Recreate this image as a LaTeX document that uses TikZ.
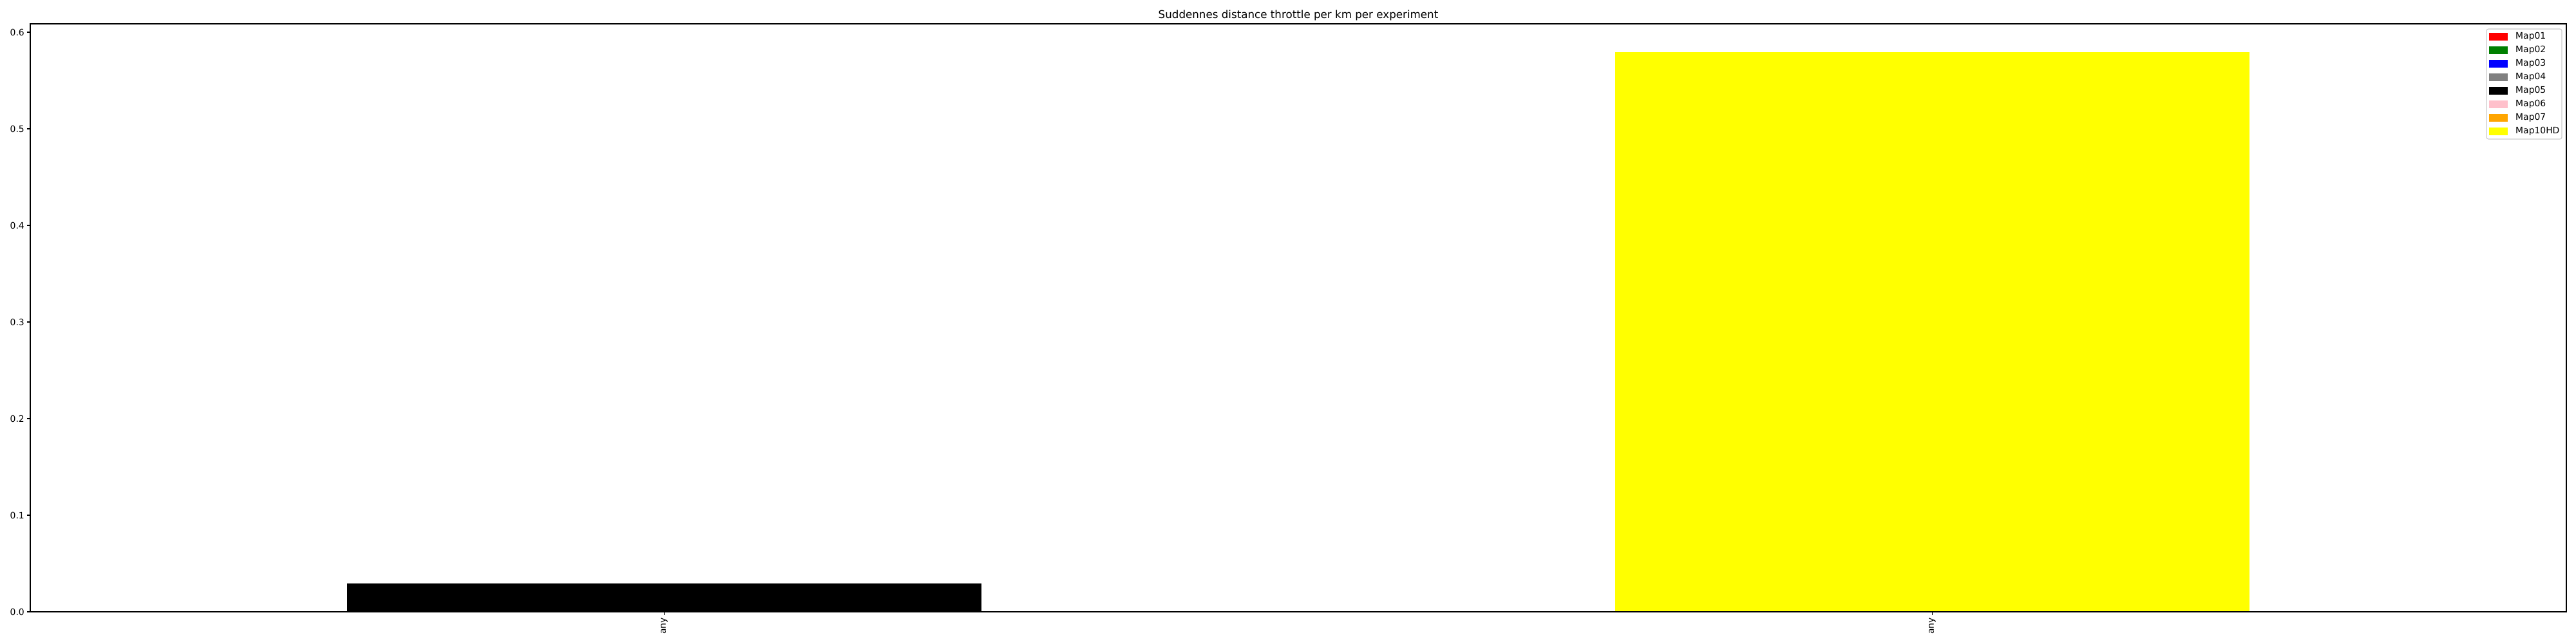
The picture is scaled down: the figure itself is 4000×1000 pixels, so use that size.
\documentclass[tikz,border=0pt]{standalone}
\usepackage{fontspec}
\setmainfont{DejaVu Sans}
\definecolor{mplred}{HTML}{FF0000}
\definecolor{mplgreen}{HTML}{008000}
\definecolor{mplblue}{HTML}{0000FF}
\definecolor{mplgray}{HTML}{808080}
\definecolor{mplpink}{HTML}{FFC0CB}
\definecolor{mplorange}{HTML}{FFA500}
\definecolor{mplyellow}{HTML}{FFFF00}
\begin{document}
\begin{tikzpicture}[x=1pt, y=1pt,
    ticklab/.style={font=\fontsize{13.9}{16}\selectfont, inner sep=0pt},
    leglab/.style={font=\fontsize{13.9}{16}\selectfont, inner sep=0pt, anchor=west},
    patch/.style={minimum width=29pt, minimum height=11.7pt, inner sep=0pt, anchor=west}]
    \useasboundingbox (0,0) rectangle (4000,1000);
    % bars
    \fill[black] (539,50) rectangle (1524,94);
    \fill[mplyellow] (2508,50) rectangle (3493,919);
    % frame
    \draw[line width=1.1pt] (47,50) rectangle (3985,963);
    % y ticks
    \draw[line width=1.1pt] (42,50) -- (47,50) (42,200) -- (47,200) (42,350) -- (47,350) (42,500) -- (47,500);
    \draw[line width=1.1pt] (42,650) -- (47,650) (42,800) -- (47,800) (42,950) -- (47,950);
    \node[ticklab, anchor=east] (y0) at (38,50) {0.0};
    \node[ticklab, anchor=east] (y1) at (38,200) {0.1};
    \node[ticklab, anchor=east] (y2) at (38,350) {0.2};
    \node[ticklab, anchor=east] (y3) at (38,500) {0.3};
    \node[ticklab, anchor=east] (y4) at (38,650) {0.4};
    \node[ticklab, anchor=east] (y5) at (38,800) {0.5};
    \node[ticklab, anchor=east] (y6) at (38,950) {0.6};
    % x ticks
    \draw[line width=1.1pt] (1031.5,50) -- (1031.5,45) (3000.5,50) -- (3000.5,45);
    \node[ticklab, rotate=90, anchor=east] (xa) at (1031.5,41) {any};
    \node[ticklab, rotate=90, anchor=east] (xb) at (3000.5,41) {any};
    % title
    \node[font=\fontsize{16.7}{20}\selectfont, inner sep=0pt, anchor=base] (title) at (2016,971) {Suddennes distance throttle per km per experiment};
    % legend
    \draw[draw=black!20, fill=white, rounded corners=3pt, line width=1.1pt] (3861,784) rectangle (3978,955);
    \node[patch, fill=mplred] (p1) at (3865,943.3) {};
    \node[leglab] (l1) at (3906,943.3) {Map01};
    \node[patch, fill=mplgreen] (p2) at (3865,922.3) {};
    \node[leglab] (l2) at (3906,922.3) {Map02};
    \node[patch, fill=mplblue] (p3) at (3865,901.3) {};
    \node[leglab] (l3) at (3906,901.3) {Map03};
    \node[patch, fill=mplgray] (p4) at (3865,880.3) {};
    \node[leglab] (l4) at (3906,880.3) {Map04};
    \node[patch, fill=black] (p5) at (3865,859.3) {};
    \node[leglab] (l5) at (3906,859.3) {Map05};
    \node[patch, fill=mplpink] (p6) at (3865,838.3) {};
    \node[leglab] (l6) at (3906,838.3) {Map06};
    \node[patch, fill=mplorange] (p7) at (3865,817.3) {};
    \node[leglab] (l7) at (3906,817.3) {Map07};
    \node[patch, fill=mplyellow] (p8) at (3865,796.3) {};
    \node[leglab] (l8) at (3906,796.3) {Map10HD};
\end{tikzpicture}
\end{document}
